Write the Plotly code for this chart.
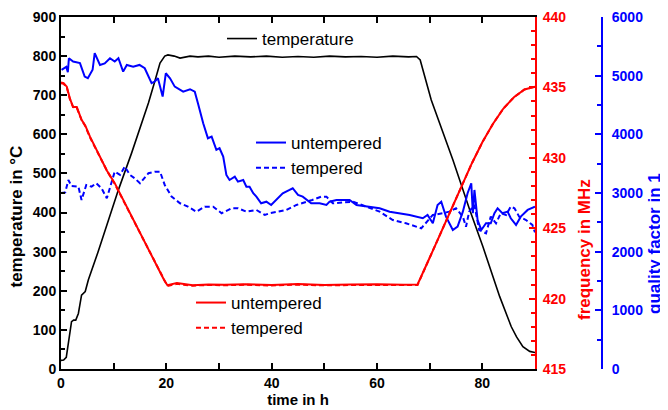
import plotly.graph_objects as go

# ---------------- data ----------------
time_temp = [0, 0.5, 1.0, 1.3, 1.7, 2.0, 2.4, 2.8, 3.3, 3.6, 3.9, 4.6, 5.2, 7.0, 9.6, 10.9,
             13.4, 16.6, 17.8, 18.8, 19.7, 20.3, 21.5, 22.6, 24.5, 26, 28, 30, 33, 36, 39,
             42, 45, 48, 51, 54, 57, 60, 63, 66, 67.5, 68.2, 70.3, 74.4, 77.6, 80.1, 83.3,
             85.5, 86.5, 87.7, 89, 90]
temperature = [22, 23, 30, 57, 100, 121, 125, 125, 142, 168, 189, 198, 228, 298, 407, 458,
               552, 680, 735, 782, 800, 803, 800, 795, 800, 798, 800, 797, 800, 798, 800,
               797, 799, 797, 800, 798, 799, 797, 800, 798, 799, 790, 688, 535, 407, 313, 185,
               108, 82, 57, 45, 42]

time_freq = [0, 0.5, 1.1, 1.7, 2.3, 3.0, 3.9, 4.6, 5.5, 7.1, 8.7, 10.2, 12.5, 15, 17.5, 19.0,
             19.6, 20.2, 21, 22, 23, 25, 28, 31, 35, 40, 45, 50, 55, 60, 65, 67.7, 70, 72, 74,
             76, 78, 80, 82, 84, 86, 88, 90]
freq_untempered = [435.35, 435.3, 435.05, 434.2, 433.6, 433.6, 432.7, 432.3, 431.5, 430.3,
                   429.1, 428.2, 426.5, 424.7, 422.9, 421.8, 421.3, 420.95, 421.0, 421.1,
                   421.05, 420.95, 421.0, 420.98, 421.02, 420.97, 421.03, 420.97, 421.0,
                   421.02, 420.98, 421.0, 422.9, 424.6, 426.3, 428.0, 429.6, 431.1, 432.4,
                   433.5, 434.3, 434.85, 435.05]
freq_tempered = [435.3, 435.25, 435.0, 434.15, 433.6, 433.55, 432.7, 432.25, 431.45, 430.3,
                 429.1, 428.15, 426.5, 424.7, 422.9, 421.8, 421.3, 420.9, 420.97, 421.05,
                 421.0, 420.92, 420.97, 420.95, 420.98, 420.93, 420.99, 420.94, 420.96,
                 420.98, 420.95, 420.97, 422.9, 424.6, 426.3, 428.0, 429.6, 431.1, 432.4,
                 433.5, 434.3, 434.85, 435.05]

time_q_untempered = [0.1, 0.7, 1.0, 1.3, 1.5, 2.3, 3.6, 4.5, 5.1, 6.0, 6.4, 7.4, 8.3, 9.3,
                     10.2, 10.9, 11.8, 12.5, 13.7, 14.9, 15.9, 17.2, 17.8, 18.4, 19.3, 19.9,
                     20.7, 21.6, 22.6, 23.2, 24.5, 25.4, 26.0, 27.0, 27.9, 28.6, 29.5, 30.1,
                     30.8, 31.4, 32.0, 33.0, 33.6, 34.6, 35.2, 35.8, 36.5, 37.1, 38.0, 39.0,
                     39.9, 40.9, 42.1, 43.4, 44.0, 45.0, 45.9, 47.5, 49.1, 50.4, 51.0, 52.3,
                     53.5, 54.8, 56.1, 58.0, 60.5, 62.4, 64.3, 66.2, 68.7, 69.6, 70.6, 71.5,
                     72.2, 73.1, 74.4, 75.3, 76.3, 77.2, 77.9, 78.2, 78.5, 79.1, 79.8, 80.7,
                     81.6, 82.3, 82.9, 83.8, 84.8, 85.4, 86.4, 87.3, 88.6, 90.0]
q_untempered = [5098, 5130, 5150, 5060, 5297, 5240, 5215, 4984, 4956, 5100, 5383, 5183, 5210,
                5297, 5240, 5297, 5069, 5183, 5154, 5183, 5127, 4871, 4900, 4956, 4643, 5041,
                4956, 4813, 4757, 4728, 4769, 4728, 4530, 4189, 3933, 3961, 3734, 3763, 3620,
                3308, 3222, 3279, 3193, 3222, 3108, 3108, 2996, 2938, 2825, 2852, 2796, 2881,
                2996, 3052, 3081, 2967, 2938, 2825, 2825, 2796, 2852, 2881, 2881, 2881, 2796,
                2767, 2740, 2682, 2654, 2626, 2569, 2626, 2484, 2796, 2852, 2597, 2370, 2426,
                2682, 2996, 3166, 2655, 3052, 2540, 2370, 2484, 2484, 2655, 2740, 2655, 2682,
                2569, 2455, 2597, 2711, 2767]

time_q_tempered = [0.0, 0.8, 1.4, 2.0, 3.3, 3.9, 4.8, 5.8, 6.7, 7.7, 8.7, 9.6, 10.2, 11.2,
                   12.1, 13.1, 14.0, 15.0, 16.6, 17.8, 18.8, 19.7, 21.0, 22.6, 24.1, 25.7,
                   27.3, 28.9, 30.5, 32.4, 33.6, 35.2, 37.1, 38.7, 39.6, 41.2, 42.8, 44.7,
                   45.9, 47.7, 49.4, 50.4, 51.6, 55.4, 58.0, 60.5, 63.0, 65.5, 68.4, 70.6,
                   72.5, 73.7, 75.0, 76.3, 76.9, 77.5, 78.5, 79.4, 80.7, 81.6, 82.6, 83.5,
                   84.5, 85.4, 86.1, 87.0, 88.3, 89.5, 90.0]
q_tempered = [3000, 3010, 3222, 3120, 3110, 2881, 3137, 3108, 3166, 3081, 2910, 3166, 3364,
              3308, 3449, 3308, 3251, 3166, 3337, 3364, 3364, 3137, 2938, 2825, 2767, 2682,
              2767, 2767, 2655, 2740, 2740, 2682, 2711, 2626, 2655, 2682, 2711, 2796, 2825,
              2881, 2938, 2938, 2825, 2852, 2767, 2682, 2540, 2484, 2398, 2626, 2655, 2682,
              2740, 2597, 2426, 2682, 2796, 2370, 2313, 2597, 2484, 2655, 2626, 2767, 2740,
              2597, 2540, 2455, 2330]

x_ticks = [0, 20, 40, 60, 80]

# ---------------- figure ----------------
FONT = "Liberation Sans, Arial, sans-serif"
BLUE = "#0000ff"
RED = "#ff0000"
PAGE_OFF = 8                     # default body margin of the html page
W, H = 668 - PAGE_OFF, 410 - PAGE_OFF
DASH = "5px,3px"

fig = go.Figure()

fig.add_trace(go.Scatter(x=time_temp, y=temperature, mode="lines", name="temperature",
                         line=dict(color="black", width=1.6), yaxis="y", legend="legend"))

fig.add_trace(go.Scatter(x=time_q_tempered, y=q_tempered, mode="lines", name="tempered",
                         line=dict(color=BLUE, width=2, dash=DASH), yaxis="y2",
                         legend="legend2", legendrank=2))
fig.add_trace(go.Scatter(x=time_q_untempered, y=q_untempered, mode="lines", name="untempered",
                         line=dict(color=BLUE, width=2), yaxis="y2",
                         legend="legend2", legendrank=1))

fig.add_trace(go.Scatter(x=time_freq, y=freq_tempered, mode="lines", name="tempered",
                         line=dict(color=RED, width=2, dash=DASH), yaxis="y3",
                         legend="legend3", legendrank=2))
fig.add_trace(go.Scatter(x=time_freq, y=freq_untempered, mode="lines", name="untempered",
                         line=dict(color=RED, width=2), yaxis="y3",
                         legend="legend3", legendrank=1))

# page-pixel geometry of the reference
P_LEFT, P_RIGHT, P_TOP, P_BOTTOM, P_BLUE = 61, 535, 17, 369, 602
ML = P_LEFT - PAGE_OFF
MT = P_TOP - PAGE_OFF
MR = 668 - P_BLUE
MB = 410 - P_BOTTOM
plot_w = W - ML - MR
plot_h = H - MT - MB
dom_end = (P_RIGHT - P_LEFT) / plot_w


def px_x(px):
    return (px - P_LEFT) / plot_w


def px_y(py):
    return (P_BOTTOM - py) / plot_h


tickfont = dict(family=FONT, size=14, weight="bold", color="black")
titlefont = dict(family=FONT, size=15, weight="bold", color="black")
legfont = dict(family=FONT, size=17, color="black")
VT_SIZE = 17

fig.update_layout(
    width=W, height=H, showlegend=True,
    margin=dict(l=ML, r=MR, t=MT, b=MB, autoexpand=False),
    paper_bgcolor="white", plot_bgcolor="white",
    font=dict(family=FONT, size=14, color="black"),
    xaxis=dict(
        range=[0, 90], domain=[0, dom_end], tickvals=x_ticks,
        showline=True, linecolor="black", linewidth=2, mirror="allticks",
        ticks="inside", ticklen=6, tickwidth=2, tickcolor="black",
        minor=dict(dtick=10, tick0=0, ticks="inside", ticklen=4, tickwidth=2, tickcolor="black"),
        showgrid=False, zeroline=False, tickfont=tickfont,
        title=dict(text="time in h", font=titlefont, standoff=2),
        automargin=False,
    ),
    yaxis=dict(
        range=[0, 900], dtick=100, tick0=0,
        showline=True, linecolor="black", linewidth=2,
        ticks="inside", ticklen=6, tickwidth=2, tickcolor="black",
        minor=dict(dtick=50, tick0=0, ticks="inside", ticklen=4, tickwidth=2, tickcolor="black"),
        showgrid=False, zeroline=False, tickfont=tickfont,
        automargin=False,
    ),
    yaxis2=dict(
        range=[0, 6000], dtick=1000, tick0=0, overlaying="y", anchor="free", position=1,
        side="right",
        showline=True, linecolor=BLUE, linewidth=2,
        ticks="inside", ticklen=6, tickwidth=2, tickcolor=BLUE,
        minor=dict(dtick=500, tick0=0, ticks="inside", ticklen=4, tickwidth=2, tickcolor=BLUE),
        showgrid=False, zeroline=False, ticklabelstandoff=6,
        tickfont=dict(family=FONT, size=14, weight="bold", color=BLUE),
        automargin=False,
    ),
    yaxis3=dict(
        range=[415, 440], dtick=5, tick0=415, overlaying="y", anchor="x", side="right",
        showline=True, linecolor=RED, linewidth=2,
        ticks="inside", ticklen=6, tickwidth=2, tickcolor=RED,
        minor=dict(dtick=1, tick0=415, ticks="inside", ticklen=4, tickwidth=2, tickcolor=RED),
        showgrid=False, zeroline=False, ticklabelstandoff=3,
        tickfont=dict(family=FONT, size=14, weight="bold", color=RED),
        automargin=False,
    ),
    legend=dict(x=px_x(222), y=px_y(21), xanchor="left", yanchor="top",
                bgcolor="rgba(0,0,0,0)", font=legfont),
    legend2=dict(x=px_x(251), y=px_y(125), xanchor="left", yanchor="top",
                 bgcolor="rgba(0,0,0,0)", font=legfont),
    legend3=dict(x=px_x(191), y=px_y(285), xanchor="left", yanchor="top",
                 bgcolor="rgba(0,0,0,0)", font=legfont),
)

# vertical axis titles (placed where the reference draws them)
v_titles = [
    ("temperature in °C", "black", 16.5, 217),
    ("frequency in MHz", RED, 585, 250),
    ("quality factor in 1", BLUE, 654, 244),
]
for text, color, cx, cy in v_titles:
    fig.add_annotation(text=text, xref="paper", yref="paper", x=px_x(cx), y=px_y(cy),
                       xanchor="center", yanchor="middle", textangle=-90, showarrow=False,
                       borderpad=0,
                       font=dict(family=FONT, size=VT_SIZE, weight="bold", color=color))

fig.write_html("out.html")
